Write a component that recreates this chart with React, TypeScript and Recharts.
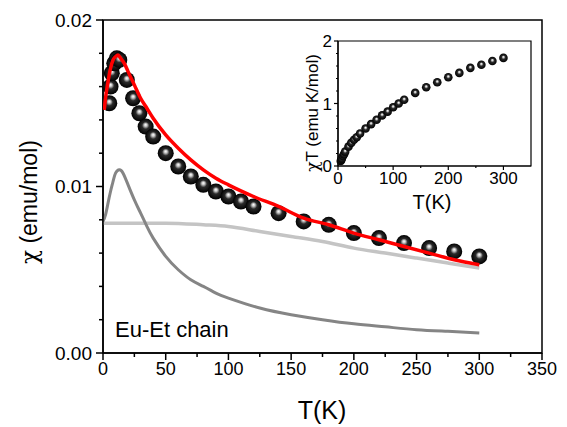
import React from 'react';
import { ComposedChart, ScatterChart, Scatter, Line, XAxis, YAxis, ReferenceArea } from 'recharts';

const FONT = '"Liberation Sans", Arial, Helvetica, sans-serif';

// measured susceptibility chi(T), emu/mol
const expT = [5, 6, 7, 9, 11, 13, 19, 24, 29, 34, 40, 50, 60, 70, 80, 90, 100, 110, 120, 140, 160, 180, 200, 220, 240, 260, 280, 300];
const expChi = [0.015, 0.016, 0.0168, 0.0174, 0.0177, 0.0176, 0.0164, 0.0153, 0.0144, 0.0136, 0.013, 0.012, 0.0112, 0.0106, 0.0101, 0.0097, 0.0094, 0.0091, 0.0088, 0.0084, 0.0079, 0.0077, 0.0072, 0.0069, 0.0066, 0.0063, 0.0061, 0.0058];

// red fit
const fitT = [1, 2, 4, 6, 8, 10, 12, 14, 17, 20, 25, 30, 35, 40, 50, 60, 70, 80, 90, 100, 120, 140, 160, 180, 200, 220, 240, 260, 280, 300];
const fitChi = [0.0146, 0.0153, 0.0163, 0.0171, 0.0176, 0.0178, 0.0179, 0.0177, 0.0174, 0.0169, 0.0161, 0.0153, 0.0147, 0.0141, 0.0131, 0.0123, 0.0116, 0.011, 0.0105, 0.0101, 0.0094, 0.0088, 0.0081, 0.0077, 0.0072, 0.0068, 0.0064, 0.006, 0.0056, 0.0053];

// dark grey component
const darkT = [0, 2, 4, 6, 8, 10, 13, 16, 20, 25, 30, 35, 40, 50, 60, 70, 80, 90, 100, 125, 150, 175, 200, 225, 250, 275, 300];
const darkChi = [0.0079, 0.0083, 0.009, 0.0097, 0.0103, 0.0108, 0.011, 0.0108, 0.0101, 0.0092, 0.0084, 0.0076, 0.0069, 0.0058, 0.005, 0.0044, 0.004, 0.0036, 0.0033, 0.0027, 0.0023, 0.002, 0.00175, 0.00157, 0.0014, 0.0013, 0.0012];

// light grey component
const lightT = [0, 25, 50, 80, 100, 125, 150, 175, 200, 225, 250, 275, 300];
const lightChi = [0.0078, 0.0078, 0.0078, 0.0077, 0.0076, 0.0073, 0.007, 0.0067, 0.0063, 0.006, 0.0057, 0.0054, 0.0051];

// inset chi*T, emu K/mol
const insetT = [5, 6, 7, 9, 11, 13, 19, 24, 29, 34, 40, 50, 60, 70, 80, 90, 100, 110, 120, 140, 160, 180, 200, 220, 240, 260, 280, 300];
const insetChiT = [0.08, 0.1, 0.12, 0.16, 0.19, 0.23, 0.31, 0.37, 0.42, 0.46, 0.52, 0.6, 0.67, 0.74, 0.81, 0.87, 0.94, 1.0, 1.06, 1.17, 1.26, 1.34, 1.42, 1.49, 1.57, 1.62, 1.68, 1.73];

const xTicks = [0, 50, 100, 150, 200, 250, 300, 350];
const xMinor = [25, 75, 125, 175, 225, 275, 325];
const yTicks = [0, 0.01, 0.02];
const yMinor = [0.002, 0.004, 0.006, 0.008, 0.012, 0.014, 0.016, 0.018];
const insetXTicks = [0, 100, 200, 300];
const insetXMinor = [50, 150, 250];
const insetYTicks = [0, 1, 2];
const insetYMinor = [0.2, 0.4, 0.6, 0.8, 1.2, 1.4, 1.6, 1.8];

const zip = (xs: number[], ys: number[], key: string) => xs.map((x, i) => ({ T: x, [key]: ys[i] }));

const expData = zip(expT, expChi, 'chi');
const fitData = zip(fitT, fitChi, 'chi');
const darkData = zip(darkT, darkChi, 'chi');
const lightData = zip(lightT, lightChi, 'chi');
const insetData = zip(insetT, insetChiT, 'chiT');

const sortNum = (a: number[], b: number[]) => [...a, ...b].sort((p, q) => p - q);

// tick renderers: long tick + label for majors, short tick only for minors
const makeXTick = (majors: number[], big: number, small: number, fs: number, sw: number) => (p: any) => {
  const v = p.payload.value;
  const major = majors.some((m) => Math.abs(m - v) < 1e-9);
  const len = major ? big : small;
  return (
    <g>
      <line x1={p.x} x2={p.x} y1={p.y} y2={p.y + len} stroke="#000" strokeWidth={sw} />
      {major && (
        <text x={p.x} y={p.y + big + 1} dy="0.75em" textAnchor="middle" fontSize={fs} fontFamily={FONT} fill="#000">
          {v}
        </text>
      )}
    </g>
  );
};

const makeYTick = (majors: number[], big: number, small: number, fs: number, sw: number, gap: number, fmt: (v: number) => string) => (p: any) => {
  const v = p.payload.value;
  const major = majors.some((m) => Math.abs(m - v) < 1e-9);
  const len = major ? big : small;
  return (
    <g>
      <line x1={p.x - len} x2={p.x} y1={p.y} y2={p.y} stroke="#000" strokeWidth={sw} />
      {major && (
        <text x={p.x - big - gap} y={p.y} dy="0.36em" textAnchor="end" fontSize={fs} fontFamily={FONT} fill="#000">
          {fmt(v)}
        </text>
      )}
    </g>
  );
};

const BigBall = (p: any) => <circle cx={p.cx} cy={p.cy} r={8} fill="url(#sphere)" />;
const SmallBall = (p: any) => <circle cx={p.cx} cy={p.cy} r={4.3} fill="url(#sphere)" />;

export default function App() {
  return (
    <div style={{ position: 'absolute', left: 0, top: 0, width: 567, height: 427, background: '#fff', fontFamily: FONT }}>
      <svg width={0} height={0} style={{ position: 'absolute' }}>
        <defs>
          <radialGradient id="sphere" cx="0.5" cy="0.5" r="0.5" fx="0.5" fy="0.38">
            <stop offset="0" stopColor="#ffffff" />
            <stop offset="0.18" stopColor="#c8c8c8" />
            <stop offset="0.45" stopColor="#2a2a2a" />
            <stop offset="1" stopColor="#000000" />
          </radialGradient>
        </defs>
      </svg>

      <ComposedChart width={567} height={427} margin={{ top: 20, right: 25, bottom: 34, left: 43 }}>
        <XAxis dataKey="T" type="number" domain={[0, 350]} ticks={sortNum(xTicks, xMinor)} allowDataOverflow height={40}
          axisLine={{ stroke: '#000', strokeWidth: 1.5 }} tickLine={false} tickSize={0} tickMargin={0}
          interval={0} tick={makeXTick(xTicks, 7, 4, 18, 1.5)} />
        <YAxis type="number" domain={[0, 0.02]} ticks={sortNum(yTicks, yMinor)} width={60} allowDataOverflow
          axisLine={{ stroke: '#000', strokeWidth: 1.5 }} tickLine={false} tickSize={0} tickMargin={0}
          interval={0} tick={makeYTick(yTicks, 7, 4, 19, 1.5, 4, (v) => v.toFixed(2))} />
        <ReferenceArea x1={0} x2={350} y1={0} y2={0.02} fill="none" stroke="#000" strokeWidth={1.5} ifOverflow="visible" />

        <Line data={lightData} dataKey="chi" type="monotone" stroke="#c4c4c4" strokeWidth={3.5} dot={false} isAnimationActive={false} />
        <Line data={darkData} dataKey="chi" type="natural" stroke="#858585" strokeWidth={3} dot={false} isAnimationActive={false} />
        <Scatter data={expData} dataKey="chi" shape={BigBall} isAnimationActive={false} />
        <Line data={fitData} dataKey="chi" type="monotone" stroke="#ff0000" strokeWidth={3.5} dot={false} isAnimationActive={false} zIndex={700} />

        <text x={115} y={337} fontSize={22} fontFamily={FONT} fill="#000">Eu-Et chain</text>
        <text x={322} y={419} fontSize={25} fontFamily={FONT} fill="#000" textAnchor="middle">T(K)</text>
        <text x={29} y={202} dy="0.35em" fontSize={23} fontFamily={FONT} fill="#000" textAnchor="middle"
          transform="rotate(-90, 29, 202)"><tspan fontFamily="DejaVu Serif">χ</tspan> (emu/mol)</text>
      </ComposedChart>

      <div style={{ position: 'absolute', left: 290, top: 25 }}>
        <ScatterChart width={250} height={195} margin={{ top: 16, right: 9, bottom: 24, left: 18 }}>
          <XAxis dataKey="T" type="number" domain={[0, 350]} ticks={sortNum(insetXTicks, insetXMinor)} height={30}
            axisLine={{ stroke: '#000', strokeWidth: 1.2 }} tickLine={false} tickSize={0} tickMargin={0}
            interval={0} tick={makeXTick(insetXTicks, 4, 2, 17, 1.2)} />
          <YAxis dataKey="chiT" type="number" domain={[0, 2]} ticks={sortNum(insetYTicks, insetYMinor)} width={30}
            axisLine={{ stroke: '#000', strokeWidth: 1.2 }} tickLine={false} tickSize={0} tickMargin={0}
            interval={0} tick={makeYTick(insetYTicks, 4, 2, 17, 1.2, 2, (v) => String(v))} />
          <ReferenceArea x1={0} x2={350} y1={0} y2={2} fill="none" stroke="#000" strokeWidth={1.2} ifOverflow="visible" />
          <Scatter data={insetData} dataKey="chiT" shape={SmallBall} isAnimationActive={false} />

          <text x={142} y={184} fontSize={20} fontFamily={FONT} fill="#000" textAnchor="middle">T(K)</text>
          <text x={22} y={88} dy="0.35em" fontSize={17} fontFamily={FONT} fill="#000" textAnchor="middle"
            transform="rotate(-90, 22, 88)"><tspan fontFamily="DejaVu Serif">χ</tspan>T (emu K/mol)</text>
        </ScatterChart>
      </div>
    </div>
  );
}
